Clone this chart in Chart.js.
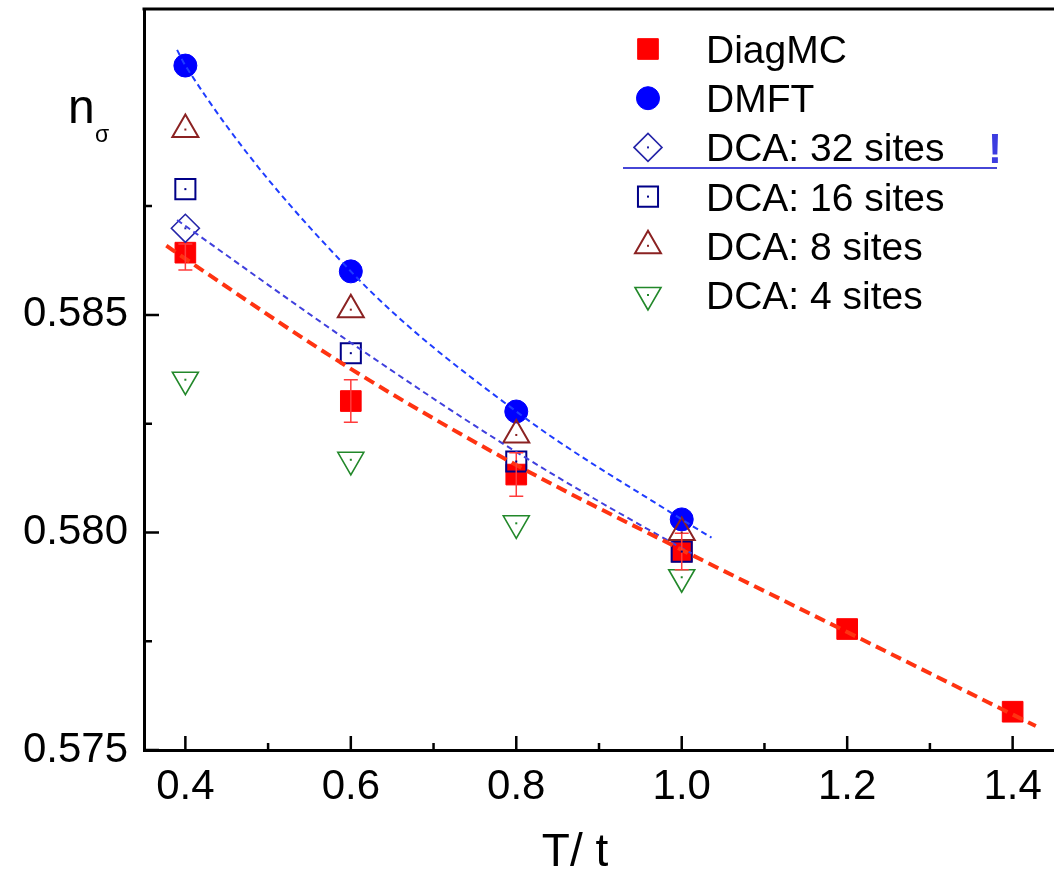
<!DOCTYPE html>
<html>
<head>
<meta charset="utf-8">
<script src="https://cdn.jsdelivr.net/npm/chart.js@4/dist/chart.umd.min.js"></script>
<style>
  html, body { margin: 0; padding: 0; background: #fff; }
  #wrap { width: 1054px; height: 870px; }
</style>
</head>
<body>
<div id="wrap"><canvas id="nChart" width="1054" height="870"></canvas></div>
<script>
// temperatures (T/t)
const diagTemps = [0.4, 0.6, 0.8, 1.0, 1.2, 1.4];
const dcaTemps = [0.4, 0.6, 0.8, 1.0];

// occupation n_sigma
const diagmc = [0.58643, 0.58302, 0.58133, 0.57956, 0.57778, 0.57588];
const diagmcErrUp = [0.00020, 0.00049, 0.00050, 0.00042, 0, 0];
const diagmcErrDown = [0.00040, 0.00049, 0.00050, 0.00042, 0, 0];
const dmft = [0.59073, 0.58600, 0.58278, 0.58030];
const dca32Temps = [0.4];
const dca32 = [0.58699];
const dca16 = [0.58789, 0.58412, 0.58163, 0.57956];
const dca8 = [0.58926, 0.58512, 0.58224, 0.58000];
const dca4 = [0.58351, 0.58167, 0.58021, 0.57897];

// guide curves (dashed fits)
const diagFitT = [0.377, 0.4, 0.6, 0.8, 1.0, 1.2, 1.428];
const diagFit = [0.58659, 0.58629, 0.58376, 0.58155, 0.57960, 0.57771, 0.57555];
const dmftFitT = [0.39, 0.4, 0.6, 0.8, 1.0, 1.036];
const dmftFit = [0.59109, 0.59073, 0.58600, 0.58278, 0.58030, 0.57988];
const dca32FitT = [0.39, 0.6, 0.8, 1.0, 1.012];
const dca32Fit = [0.58718, 0.58436, 0.58185, 0.57964, 0.57952];

// axis ticks
const xTicks = [0.4, 0.6, 0.8, 1.0, 1.2, 1.4];
const xMinor = [0.5, 0.7, 0.9, 1.1, 1.3];
const yTicks = [0.575, 0.580, 0.585];
const yMinor = [0.5775, 0.5825, 0.5875];

const legendNames = ["DiagMC", "DMFT", "DCA: 32 sites", "DCA: 16 sites", "DCA: 8 sites", "DCA: 4 sites"];

const FONT = "'Liberation Sans', Arial, sans-serif";

function pts(xs, ys) {
  return xs.map((x, i) => ({ x: x, y: ys[i] }));
}

// marker styles (shared by chart and legend)
const styles = [
  { shape: "rect", r: 14.6, stroke: "#ff0000", fill: "#ff0000", lw: 1 },
  { shape: "circle", r: 11.5, stroke: "#0000ff", fill: "#0000ff", lw: 1 },
  { shape: "rectRot", r: 14, stroke: "#2424a8", fill: "rgba(0,0,0,0)", lw: 1.6 },
  { shape: "rect", r: 14.2, stroke: "#000088", fill: "rgba(0,0,0,0)", lw: 2 },
  { shape: "triangle", r: 15, stroke: "#8b2222", fill: "rgba(0,0,0,0)", lw: 2, rot: 0 },
  { shape: "triangle", r: 15, stroke: "#22882a", fill: "rgba(0,0,0,0)", lw: 1.6, rot: 180 }
];

function markerSet(label, data, st, order, dot) {
  return {
    label: label,
    data: data,
    showLine: false,
    pointStyle: st.shape,
    pointRadius: st.r,
    pointHoverRadius: st.r,
    pointRotation: st.rot || 0,
    pointBorderWidth: st.lw,
    pointBorderColor: st.stroke,
    pointBackgroundColor: st.fill,
    borderColor: st.stroke,
    backgroundColor: st.fill,
    order: order,
    centerDot: dot
  };
}

function fitSet(data, color, width, dash) {
  return {
    label: "fit",
    data: data,
    showLine: true,
    pointRadius: 0,
    borderColor: color,
    borderWidth: width,
    borderDash: dash,
    cubicInterpolationMode: "monotone",
    fill: false,
    order: 0
  };
}

// error bars for DiagMC
const errorBars = {
  id: "errorBars",
  afterDatasetsDraw(chart) {
    const ctx = chart.ctx;
    const y = chart.scales.y;
    const meta = chart.getDatasetMeta(0);
    ctx.save();
    ctx.strokeStyle = "#ff3b3b";
    ctx.lineWidth = 1.5;
    meta.data.forEach((p, i) => {
      if (!diagmcErrUp[i] && !diagmcErrDown[i]) return;
      const top = y.getPixelForValue(diagmc[i] + diagmcErrUp[i]);
      const bot = y.getPixelForValue(diagmc[i] - diagmcErrDown[i]);
      ctx.beginPath();
      ctx.moveTo(p.x, top); ctx.lineTo(p.x, bot);
      ctx.moveTo(p.x - 7, top); ctx.lineTo(p.x + 7, top);
      ctx.moveTo(p.x - 7, bot); ctx.lineTo(p.x + 7, bot);
      ctx.stroke();
    });
    ctx.restore();
  }
};

// little dot in the middle of the open symbols
const centerDots = {
  id: "centerDots",
  afterDatasetsDraw(chart) {
    const ctx = chart.ctx;
    chart.data.datasets.forEach((ds, i) => {
      if (!ds.centerDot) return;
      ctx.fillStyle = ds.pointBorderColor;
      chart.getDatasetMeta(i).data.forEach(p => {
        ctx.fillRect(p.x - 1, p.y - 1, 2, 2);
      });
    });
  }
};

function drawMarker(ctx, st, x, y) {
  ctx.save();
  ctx.strokeStyle = st.stroke;
  ctx.fillStyle = st.fill;
  ctx.lineWidth = st.lw;
  ctx.beginPath();
  const r = st.r;
  if (st.shape === "circle") {
    ctx.arc(x, y, r, 0, Math.PI * 2);
  } else if (st.shape === "rect") {
    const s = r * Math.SQRT1_2;
    ctx.rect(x - s, y - s, 2 * s, 2 * s);
  } else if (st.shape === "rectRot") {
    ctx.moveTo(x - r, y); ctx.lineTo(x, y - r); ctx.lineTo(x + r, y); ctx.lineTo(x, y + r);
    ctx.closePath();
  } else {
    let a = (st.rot || 0) * Math.PI / 180;
    ctx.moveTo(x + Math.sin(a) * r, y - Math.cos(a) * r);
    for (let k = 0; k < 2; k++) {
      a += 2 * Math.PI / 3;
      ctx.lineTo(x + Math.sin(a) * r, y - Math.cos(a) * r);
    }
    ctx.closePath();
  }
  ctx.fill();
  ctx.stroke();
  if (st.fill === "rgba(0,0,0,0)") {
    ctx.fillStyle = st.stroke;
    ctx.fillRect(x - 1, y - 1, 2, 2);
  }
  ctx.restore();
}

// frame, inward ticks, titles and legend
const decorations = {
  id: "decorations",
  afterDraw(chart) {
    const ctx = chart.ctx;
    const a = chart.chartArea;
    const xs = chart.scales.x, ys = chart.scales.y;
    ctx.save();
    ctx.strokeStyle = "#000";
    ctx.lineWidth = 3;
    ctx.beginPath();
    ctx.moveTo(a.left - 1.5, a.top);
    ctx.lineTo(chart.width, a.top);
    ctx.stroke();

    ctx.lineWidth = 2.5;
    ctx.beginPath();
    xTicks.forEach(v => { const px = xs.getPixelForValue(v); ctx.moveTo(px, a.bottom); ctx.lineTo(px, a.bottom - 14); });
    xMinor.forEach(v => { const px = xs.getPixelForValue(v); ctx.moveTo(px, a.bottom); ctx.lineTo(px, a.bottom - 7); });
    yTicks.forEach(v => { const py = ys.getPixelForValue(v); ctx.moveTo(a.left, py); ctx.lineTo(a.left + 15, py); });
    yMinor.forEach(v => { const py = ys.getPixelForValue(v); ctx.moveTo(a.left, py); ctx.lineTo(a.left + 8, py); });
    ctx.stroke();

    // axis titles
    ctx.fillStyle = "#000";
    ctx.textBaseline = "alphabetic";
    ctx.textAlign = "left";
    ctx.font = "48px " + FONT;
    ctx.fillText("n", 68, 123);
    ctx.font = "23px " + FONT;
    ctx.fillText("\u03c3", 95, 142);
    ctx.textAlign = "center";
    ctx.font = "46px " + FONT;
    ctx.fillText("T/ t", 575, 866);

    // legend
    ctx.textAlign = "left";
    ctx.font = "39px " + FONT;
    legendNames.forEach((name, i) => {
      const base = 63 + i * 49.2;
      drawMarker(ctx, styles[i], 648, base - 14);
      ctx.fillStyle = "#000";
      ctx.fillText(name, 706, base);
    });
    // stray underline and mark next to the 32-site entry
    ctx.strokeStyle = "#4646d6";
    ctx.lineWidth = 2;
    ctx.beginPath();
    ctx.moveTo(623, 168);
    ctx.lineTo(997, 168);
    ctx.stroke();
    ctx.fillStyle = "#3c3ce0";
    ctx.textAlign = "center";
    ctx.font = "bold 42px " + FONT;
    ctx.fillText("!", 995, 163);
    ctx.restore();
  }
};

// keep the plot box fixed: no extra room for overhanging tick labels
function fixPadding(s) {
  s.paddingTop = 0;
  s.paddingBottom = 0;
  s.paddingLeft = 0;
  s.paddingRight = 0;
}

new Chart(document.getElementById("nChart"), {
  type: "scatter",
  data: {
    datasets: [
      markerSet("DiagMC", pts(diagTemps, diagmc), styles[0], 6, false),
      markerSet("DMFT", pts(dcaTemps, dmft), styles[1], 5, false),
      markerSet("DCA: 32 sites", pts(dca32Temps, dca32), styles[2], 4, true),
      markerSet("DCA: 16 sites", pts(dcaTemps, dca16), styles[3], 3, true),
      markerSet("DCA: 8 sites", pts(dcaTemps, dca8), styles[4], 2, true),
      markerSet("DCA: 4 sites", pts(dcaTemps, dca4), styles[5], 1, true),
      fitSet(pts(diagFitT, diagFit), "#ff3311", 4, [11, 6]),
      fitSet(pts(dmftFitT, dmftFit), "#1f3dff", 2, [6, 4]),
      fitSet(pts(dca32FitT, dca32Fit), "#4040dd", 2, [6, 4])
    ]
  },
  options: {
    responsive: false,
    animation: false,
    layout: { autoPadding: false, padding: { top: 9, right: 0, left: 0, bottom: 0 } },
    plugins: {
      legend: { display: false },
      tooltip: { enabled: false }
    },
    scales: {
      x: {
        type: "linear",
        min: 0.35,
        max: 1.45,
        grid: { display: false, drawTicks: false },
        border: { display: true, color: "#000", width: 3 },
        afterBuildTicks: s => { s.ticks = xTicks.map(v => ({ value: v })); },
        afterFit: s => { s.height = 120; fixPadding(s); },
        ticks: {
          color: "#000",
          font: { family: FONT, size: 42 },
          padding: 12,
          maxRotation: 0,
          autoSkip: false,
          callback: v => v.toFixed(1)
        }
      },
      y: {
        type: "linear",
        min: 0.575,
        max: 0.59203,
        grid: { display: false, drawTicks: false },
        border: { display: true, color: "#000", width: 3 },
        afterBuildTicks: s => { s.ticks = yTicks.map(v => ({ value: v })); },
        afterFit: s => { s.width = 144; fixPadding(s); },
        ticks: {
          color: "#000",
          font: { family: FONT, size: 42 },
          padding: 16,
          callback: v => v.toFixed(3)
        }
      }
    }
  },
  plugins: [errorBars, centerDots, decorations]
});
</script>
</body>
</html>
